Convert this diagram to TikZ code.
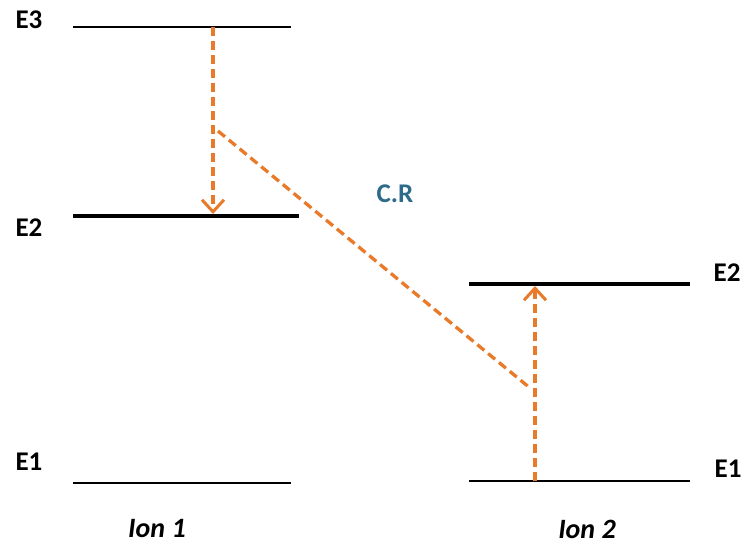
\documentclass[tikz,border=0pt]{standalone}
\usepackage{fontspec}
\setmainfont{Carlito}
\usetikzlibrary{arrows.meta}
\definecolor{orng}{HTML}{E87A2A}
\definecolor{crblue}{HTML}{2E6B8A}
\tikzset{
  thinlvl/.style={line width=1.8pt, black},
  thicklvl/.style={line width=3.5pt, black},
  lbl/.style={font=\fontsize{27}{31}\selectfont\bfseries, inner sep=0pt},
  ionlbl/.style={font=\fontsize{28}{32}\selectfont\bfseries\itshape, inner sep=0pt},
  trans/.style={orng, line width=3.3pt, dash pattern=on 9pt off 5pt},
  transarrow/.style={trans, -{Straight Barb[length=12pt,width=22pt,line width=3pt]}}
}
\begin{document}
\begin{tikzpicture}[x=1pt,y=-1pt]
\useasboundingbox (0,0) rectangle (746,547);
% levels ion 1
\coordinate (e3a) at (73,27);  \coordinate (e3b) at (291,27);
\coordinate (e2a) at (73,216); \coordinate (e2b) at (299,216);
\coordinate (e1a) at (73,483); \coordinate (e1b) at (291,483);
\draw[thinlvl] (e3a) -- (e3b);
\draw[thicklvl] (e2a) -- (e2b);
\draw[thinlvl] (e1a) -- (e1b);
% levels ion 2
\coordinate (f2a) at (469,284); \coordinate (f2b) at (690,284);
\coordinate (f1a) at (469,481); \coordinate (f1b) at (690,481);
\draw[thicklvl] (f2a) -- (f2b);
\draw[thinlvl] (f1a) -- (f1b);
% labels
\node[lbl] (le3) at (29,20) {E3};
\node[lbl] (le2) at (29,228) {E2};
\node[lbl] (le1) at (29,462) {E1};
\node[lbl] (re2) at (727,273) {E2};
\node[lbl] (re1) at (728,469) {E1};
\node[ionlbl] (ion1) at (157,529) {Ion 1};
\node[ionlbl] (ion2) at (587,529) {Ion 2};
\node[lbl, text=crblue] (cr) at (395,194) {C.R};
% transitions
\coordinate (d0) at (213,27);  \coordinate (d1) at (213,214);
\coordinate (c0) at (218,131); \coordinate (c1) at (530,388);
\coordinate (u0) at (535,481); \coordinate (u1) at (535,286);
\draw[transarrow] (d0) -- (d1);
\draw[trans] (c0) -- (c1);
\draw[transarrow] (u0) -- (u1);
\end{tikzpicture}
\end{document}
